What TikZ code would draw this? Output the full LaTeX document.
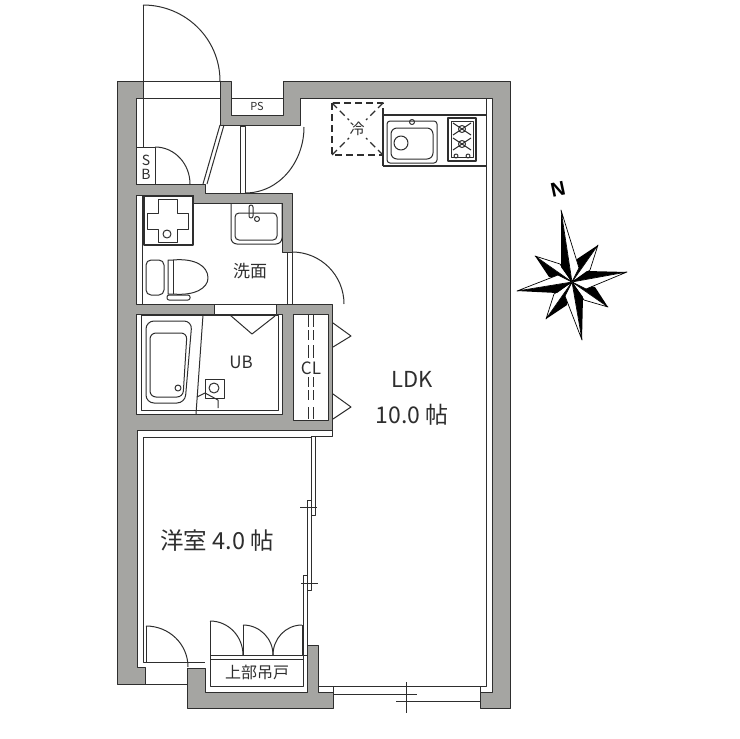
\documentclass[tikz,border=0pt]{standalone}
\usepackage{fontspec}
\setmainfont{Noto Sans CJK JP}
\newfontfamily\compassfont{Liberation Sans}
\definecolor{wallgray}{HTML}{A5A5A2}
\definecolor{inkgray}{HTML}{2E2E2E}
\begin{document}
\begin{tikzpicture}[x=1pt,y=-1pt,line join=round,
    wall/.style={fill=wallgray,draw=inkgray,line width=1pt},
    thinline/.style={draw=inkgray,line width=1pt},
    fixture/.style={draw=inkgray,line width=1.2pt},
    label/.style={text=inkgray,inner sep=0pt,font=\fontsize{#1}{#1}\selectfont}]
    \useasboundingbox (0,0) rectangle (740,739);
    % walls
    \draw[wall] (117,81) -- (143,81) -- (143,98) -- (136,98) -- (136,184) -- (205,184) -- (205,193)
        -- (292,193) -- (292,252) -- (282,252) -- (282,203) -- (193,203) -- (193,195) -- (136,195)
        -- (136,304) -- (214,304) -- (214,314) -- (136,314) -- (136,414) -- (282,414) -- (282,314)
        -- (276,314) -- (276,304) -- (332,304) -- (332,430) -- (137,430) -- (137,667) -- (145,667)
        -- (145,684) -- (117,684) -- cycle;
    \draw[wall] (220,81) -- (231,81) -- (231,115) -- (283,115) -- (283,81) -- (510,81) -- (510,708)
        -- (480,708) -- (480,692) -- (492,692) -- (492,98) -- (300,98) -- (300,125) -- (220,125) -- cycle;
    \draw[wall] (187,668) -- (205,668) -- (205,692) -- (307,692) -- (307,645) -- (318,645) -- (318,692)
        -- (333,692) -- (333,708) -- (187,708) -- cycle;
    \draw[thinline,fill=white] (293,314) rectangle (328,420);
    % entrance
    \draw[thinline] (143,5) -- (143,147);
    \draw[thinline] (143,5) to[out=0,in=90] (220,81);
    \draw[thinline] (143,81) -- (220,81) (137,98) -- (220,98);
    \draw[thinline] (231,98) -- (283,98);
    \draw[thinline] (136,147) rectangle (155,184);
    \draw[thinline] (155,147) to[out=0,in=90] (190,184);
    \draw[thinline] (220,125) -- (203,184) (224,125) -- (207,184);
    \draw[thinline] (240,126) rectangle (245,193);
    \draw[thinline] (304,127) to[out=-90,in=0] (245,193);
    % washroom
    \draw[thinline] (142,195) -- (142,304);
    \draw[thinline] (287,252) rectangle (292,304);
    \draw[thinline] (292,252) to[out=0,in=90] (344,304);
    \draw[thinline] (214,304) -- (276,304) (214,314) -- (276,314);
    \draw[fixture] (144,196) rectangle (193,245);
    \draw[thinline] (158,199) -- (177,199) -- (177,213) -- (188,213) -- (188,229) -- (177,229) -- (177,242)
        -- (158,242) -- (158,229) -- (147,229) -- (147,213) -- (158,213) -- cycle;
    \draw[thinline] (167,234) circle (4);
    \draw[thinline,rounded corners=6pt] (231,203) -- (231,244) -- (282,244) -- (282,203);
    \draw[thinline,rounded corners=4pt] (235,213) -- (235,240) -- (277,240) -- (277,213) -- cycle;
    \draw[thinline,rounded corners=2pt] (249,205) rectangle (253,218);
    \draw[thinline] (257,219) circle (2.5);
    \draw[thinline,rounded corners=5pt] (146,260) rectangle (164,295);
    \draw[thinline] (168,260) -- (173,260) .. controls (195,258) and (208,266) .. (208,278)
        .. controls (208,288) and (195,296) .. (173,294) -- (168,294) -- cycle;
    \draw[thinline] (173,260) -- (173,294);
    \draw[thinline,rounded corners=2pt] (167,295) rectangle (190,300);
    % bath
    \draw[thinline] (141,315) rectangle (278,410);
    \draw[thinline] (203,315) -- (196,414);
    \draw[thinline,rounded corners=8pt] (146,321) -- (192,321) -- (185,403) -- (146,403) -- cycle;
    \draw[thinline,rounded corners=6pt] (150,333) -- (187,333) -- (183,397) -- (150,397) -- cycle;
    \draw[thinline] (178,388) circle (3);
    \draw[thinline] (230,315) -- (252,334) -- (275,316);
    \draw[thinline] (205,379) rectangle (224,398);
    \draw[thinline] (214,388) circle (5);
    \draw[thinline] (197,397) -- (205,393) -- (218,400) -- (218,408);
    % closet
    \foreach \railx in {308,313} {
        \foreach \raila/\railb in {315/327,330/340,345/358,377/387,390/400,407/419} {
            \draw[thinline] (\railx,\raila) -- (\railx,\railb);
        }
    }
    \draw[thinline] (333,323) -- (351,336) -- (333,347);
    \draw[thinline] (333,394) -- (351,407) -- (333,419);
    % bedroom
    \draw[thinline] (143,437) -- (143,662) -- (205,662);
    \draw[thinline] (143,437) -- (315,437) (315,436) -- (332,436) -- (332,430);
    \draw[thinline] (146,626) -- (146,662) (145,684) -- (187,684);
    \draw[thinline] (146,626) to[out=0,in=90] (188,667);
    \draw[thinline,fill=white] (311,436) rectangle (315,515);
    \draw[thinline,fill=white] (307,500) rectangle (311,590);
    \draw[thinline,fill=white] (303,575) rectangle (307,655);
    \draw[thinline] (300,507) -- (317,507) (301,583) -- (318,583);
    \draw[thinline] (210,655) rectangle (303,686);
    \draw[thinline] (210,659) -- (303,659);
    \draw[thinline] (210,621) -- (210,655) (243,625) -- (243,655) (302,625) -- (302,655);
    \draw[thinline] (210,621) to[out=0,in=90] (243,655);
    \draw[thinline] (243,625) to[out=0,in=90] (273,655);
    \draw[thinline] (302,625) to[out=180,in=90] (273,655);
    % window and right side
    \draw[thinline] (486,98) -- (486,686) -- (318,686);
    \draw[thinline] (333,686) -- (333,708) (480,686) -- (480,708);
    \draw[thinline] (333,694) -- (417,694) (396,701) -- (480,701) (406,682) -- (406,713);
    % kitchen
    \draw[fixture] (383,166) -- (383,115) -- (486,115) (383,166) -- (486,166);
    \draw[thinline,rounded corners=3pt] (387,121) rectangle (437,163);
    \draw[thinline,rounded corners=6pt] (391,128) rectangle (433,159);
    \draw[thinline] (401,143) circle (7);
    \draw[thinline] (412,122) circle (2.5);
    \draw[fixture] (448,118) rectangle (476,161);
    \draw[thinline] (451,121) rectangle (473,157);
    \foreach \burnery in {129,144} {
        \draw[thinline] (462,\burnery) circle (3.5);
        \draw[thinline] (453,\burnery-6) -- (471,\burnery+6) (471,\burnery-6) -- (453,\burnery+6);
    }
    \foreach \knobx in {456,468} {
        \draw[thinline] (\knobx,156) circle (2);
    }
    \draw[thinline,line width=1.2pt,dash pattern=on 7pt off 4pt] (332,103) rectangle (383,155);
    \draw[thinline,line width=1.2pt,dash pattern=on 7pt off 4pt] (332,103) -- (349,120) (383,103) -- (366,120)
        (332,155) -- (349,138) (383,155) -- (366,138);
    % compass
    \coordinate (c) at (572,282);
    \foreach \tipx/\tipy/\blackx/\blacky/\whitex/\whitey in {598/245/577/259/590/270, 608/307/595/287/584/300,
        546/319/567/305/554/294, 535/256/549/277/560/264,
        561/210/561/267/579/268, 627/272/587/271/586/289,
        582/340/583/297/565/296, 517/291/557/293/558/275} {
        \fill[black] (\tipx,\tipy) -- (\blackx,\blacky) -- (c) -- cycle;
        \draw[black,line width=0.7pt,fill=white] (\tipx,\tipy) -- (\whitex,\whitey) -- (c) -- cycle;
    }
    % labels
    \node[label=11] (ps) at (257,106) {PS};
    \node[label=14] (s) at (146,160) {S};
    \node[label=14] (b) at (146,174) {B};
    \node[label=17] (senmen) at (250,271) {洗面};
    \node[label=17] (ub) at (241,362) {UB};
    \node[label=17] (cl) at (311,368) {CL};
    \node[label=22] (ldk) at (412,379) {LDK};
    \node[label=23] (tatami) at (412,415) {10.0 帖};
    \node[label=23.5] (yoshitsu) at (217,541) {洋室 4.0 帖};
    \node[label=16] (tsuridana) at (257,672) {上部吊戸};
    \node[label=15] (rei) at (357,129) {冷};
    \node[inner sep=0pt,rotate=12,font=\compassfont\bfseries\fontsize{20}{20}\selectfont] (n) at (558,189) {N};
\end{tikzpicture}
\end{document}
